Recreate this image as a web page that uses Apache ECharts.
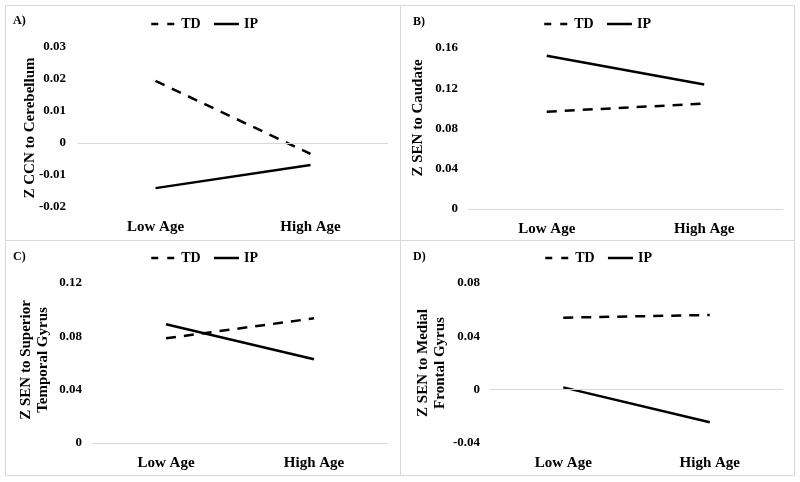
<!DOCTYPE html>
<html><head><meta charset="utf-8">
<script src="https://cdn.jsdelivr.net/npm/echarts@6/dist/echarts.min.js"></script>
<style>html,body{margin:0;padding:0;background:#fff}#c{width:800px;height:482px}</style>
</head><body><div id="c"></div>
<script>
var categories = ['Low Age', 'High Age'];
var seriesNames = ['TD', 'IP'];
var tdA = [0.0194, -0.0034];
var ipA = [-0.0141, -0.0069];
var tdB = [0.0967, 0.1047];
var ipB = [0.1523, 0.1237];
var tdC = [0.0785, 0.0935];
var ipC = [0.089, 0.0628];
var tdD = [0.054, 0.056];
var ipD = [0.0017, -0.0245];
var panelLabels = ['A)', 'B)', 'C)', 'D)'];
var yTitles = ['Z CCN to Cerebellum', 'Z SEN to Caudate', 'Z SEN to Superior\nTemporal Gyrus', 'Z SEN to Medial\nFrontal Gyrus'];
var yRanges = [[-0.02, 0.03, 0.01], [0, 0.16, 0.04], [0, 0.12, 0.04], [-0.04, 0.08, 0.04]];

var FONT = '"Liberation Serif", "Times New Roman", serif';
var grids = [
  {left: 78, top: 47, width: 310, height: 160},
  {left: 468, top: 48, width: 315, height: 161},
  {left: 92, top: 283, width: 296, height: 160},
  {left: 490, top: 283, width: 293, height: 160}
];
var yLabelMargin = [12, 10, 10, 10];
var legendPos = [{left: 145, top: 12}, {left: 538, top: 12}, {left: 145, top: 246}, {left: 539, top: 246}];
var titlePos = [{x: 30, y: 128}, {x: 418, y: 118}, {x: 35, y: 360}, {x: 432, y: 363}];
var labelPos = [{x: 13, y: 21}, {x: 413, y: 22}, {x: 13, y: 257}, {x: 413, y: 257}];
var tdData = [tdA, tdB, tdC, tdD];
var ipData = [ipA, ipB, ipC, ipD];

var xAxes = [], yAxes = [], series = [], legends = [], graphics = [];
for (var i = 0; i < 4; i++) {
  xAxes.push({
    type: 'category', gridIndex: i, data: categories,
    axisLine: {show: false}, axisTick: {show: false},
    axisLabel: {fontFamily: FONT, fontWeight: 'bold', fontSize: 15, color: '#000', margin: 13}
  });
  yAxes.push({
    type: 'value', gridIndex: i, min: yRanges[i][0], max: yRanges[i][1], interval: yRanges[i][2],
    axisLine: {show: false}, axisTick: {show: false}, splitLine: {show: false},
    axisLabel: {fontFamily: FONT, fontWeight: 'bold', fontSize: 13, color: '#000', margin: yLabelMargin[i]}
  });
  series.push({
    name: 'TD', type: 'line', xAxisIndex: i, yAxisIndex: i, data: tdData[i],
    symbol: 'none', silent: true,
    lineStyle: {color: '#000', width: 2.5, type: [10, 8]}, itemStyle: {color: '#000'}
  });
  series.push({
    name: 'IP', type: 'line', xAxisIndex: i, yAxisIndex: i, data: ipData[i],
    symbol: 'none', silent: true,
    lineStyle: {color: '#000', width: 2.5, type: 'solid'}, itemStyle: {color: '#000'},
    markLine: {silent: true, symbol: 'none', label: {show: false}, animation: false,
      lineStyle: {color: '#d9d9d9', width: 1, type: 'solid'}, data: [{yAxis: 0}]}
  });
  legends.push({
    left: legendPos[i].left, top: legendPos[i].top,
    data: [
      {name: seriesNames[0], lineStyle: {color: '#000', width: 2.5, type: [7, 9]}},
      {name: seriesNames[1], lineStyle: {color: '#000', width: 2.5, type: 'solid'}}
    ],
    itemWidth: 25, itemHeight: 14, itemGap: 12, selectedMode: false,
    itemStyle: {color: 'rgba(0,0,0,0)', borderWidth: 0, opacity: 0},
    textStyle: {fontFamily: FONT, fontWeight: 'bold', fontSize: 14, color: '#000', padding: [0, 0, 0, 0]}
  });
  graphics.push({
    type: 'text', x: titlePos[i].x, y: titlePos[i].y, rotation: Math.PI / 2,
    style: {text: yTitles[i], fontFamily: FONT, fontWeight: 'bold', fontSize: 15, fill: '#000',
      align: 'center', verticalAlign: 'middle', lineHeight: 17}
  });
  graphics.push({
    type: 'text', x: labelPos[i].x, y: labelPos[i].y,
    style: {text: panelLabels[i], fontFamily: FONT, fontWeight: 'bold', fontSize: 12, fill: '#000',
      align: 'left', verticalAlign: 'middle'}
  });
}
graphics.push({type: 'rect', shape: {x: 5.5, y: 5.5, width: 789, height: 470},
  style: {fill: 'none', stroke: '#d9d9d9', lineWidth: 1}, z: -1});
graphics.push({type: 'line', shape: {x1: 400.5, y1: 5.5, x2: 400.5, y2: 475.5},
  style: {stroke: '#d9d9d9', lineWidth: 1}, z: -1});
graphics.push({type: 'line', shape: {x1: 5.5, y1: 240.5, x2: 794.5, y2: 240.5},
  style: {stroke: '#d9d9d9', lineWidth: 1}, z: -1});

var chart = echarts.init(document.getElementById('c'), null, {renderer: 'canvas'});
chart.setOption({
  animation: false,
  backgroundColor: '#fff',
  grid: grids,
  xAxis: xAxes,
  yAxis: yAxes,
  legend: legends,
  series: series,
  graphic: graphics
});
</script></body></html>
